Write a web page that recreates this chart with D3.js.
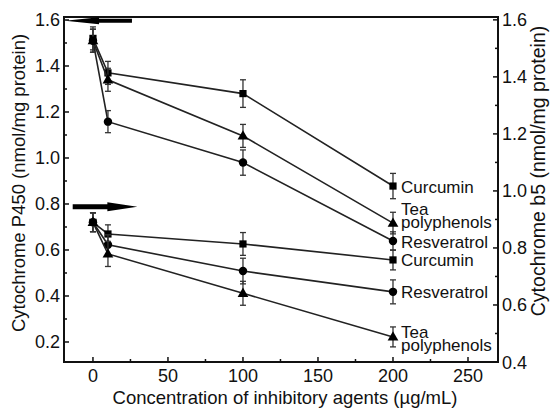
<!DOCTYPE html>
<html>
<head>
<meta charset="utf-8">
<script src="https://cdn.jsdelivr.net/npm/d3@7"></script>
<style>
  body { margin: 0; background: #fff; }
  text { font-family: "Liberation Sans", Arial, sans-serif; fill: #111; }
</style>
</head>
<body>
<script>
// concentrations (ug/mL)
var conc = [0, 10, 100, 200]

// cytochrome P450, left axis
var p450Curcumin = [1.52, 1.37, 1.28, 0.878]
var p450CurcuminErr = [0.05, 0.05, 0.06, 0.055]
var p450Tea = [1.51, 1.34, 1.096, 0.717]
var p450TeaErr = [0.05, 0.05, 0.05, 0.047]
var p450Resv = [1.51, 1.158, 0.98, 0.639]
var p450ResvErr = [0.05, 0.048, 0.055, 0.04]

// cytochrome b5, right axis
var b5Curcumin = [0.89, 0.849, 0.814, 0.758]
var b5CurcuminErr = [0.033, 0.032, 0.04, 0.035]
var b5Resv = [0.89, 0.811, 0.719, 0.646]
var b5ResvErr = [0.033, 0.035, 0.045, 0.042]
var b5Tea = [0.89, 0.779, 0.641, 0.488]
var b5TeaErr = [0.033, 0.044, 0.042, 0.035]

var xTicks = [0, 50, 100, 150, 200, 250]
var leftTicks = [0.2, 0.4, 0.6, 0.8, 1.0, 1.2, 1.4, 1.6]
var rightTicks = [0.4, 0.6, 0.8, 1.0, 1.2, 1.4, 1.6]

// arrows: [y value on left axis, x from, x to]
var arrowTop = [1.597, 26, -18.6]
var arrowBottom = [0.788, -13.5, 29.6]

var W = 551, H = 410
var L = 64, R = 498, T = 17, B = 362

var svg = d3.select("body").append("svg")
  .attr("width", W).attr("height", H)

var x = d3.scaleLinear().domain([-19.3, 270]).range([L, R])
var yL = d3.scaleLinear().domain([0.113, 1.613]).range([B, T])
var yR = d3.scaleLinear().domain([0.4, 1.61]).range([B, T])

// frame
svg.append("rect")
  .attr("x", L).attr("y", T).attr("width", R - L).attr("height", B - T)
  .attr("fill", "none").attr("stroke", "#111").attr("stroke-width", 2)

// ticks (inward)
var minorX = [25, 75, 125, 175, 225]
var minorL = d3.range(3, 16, 2).map(function(d) { return d / 10 })
var minorR = d3.range(5, 16, 2).map(function(d) { return d / 10 })

function ticks(g, vals, len, fn) {
  g.selectAll(null).data(vals).enter().append("line")
    .each(function(d) { fn(d3.select(this), d, len) })
    .attr("stroke", "#111").attr("stroke-width", 1.5)
}
var tg = svg.append("g")
ticks(tg, xTicks, 5, function(s, d, l) { s.attr("x1", x(d)).attr("x2", x(d)).attr("y1", B).attr("y2", B - l) })
ticks(tg, minorX, 3, function(s, d, l) { s.attr("x1", x(d)).attr("x2", x(d)).attr("y1", B).attr("y2", B - l) })
ticks(tg, leftTicks, 5, function(s, d, l) { s.attr("x1", L).attr("x2", L + l).attr("y1", yL(d)).attr("y2", yL(d)) })
ticks(tg, minorL, 3, function(s, d, l) { s.attr("x1", L).attr("x2", L + l).attr("y1", yL(d)).attr("y2", yL(d)) })
ticks(tg, rightTicks, 5, function(s, d, l) { s.attr("x1", R).attr("x2", R - l).attr("y1", yR(d)).attr("y2", yR(d)) })
ticks(tg, minorR, 3, function(s, d, l) { s.attr("x1", R).attr("x2", R - l).attr("y1", yR(d)).attr("y2", yR(d)) })

// tick labels
svg.selectAll(".xl").data(xTicks).enter().append("text")
  .attr("x", function(d) { return x(d) }).attr("y", 382)
  .attr("text-anchor", "middle").attr("font-size", "18px")
  .text(function(d) { return d })
svg.selectAll(".ll").data(leftTicks).enter().append("text")
  .attr("x", 60).attr("y", function(d) { return yL(d) + 6.5 })
  .attr("text-anchor", "end").attr("font-size", "18px")
  .text(function(d) { return d.toFixed(1) })
svg.selectAll(".rl").data(rightTicks).enter().append("text")
  .attr("x", 502).attr("y", function(d) { return yR(d) + 6.5 })
  .attr("font-size", "18px")
  .text(function(d) { return d.toFixed(1) })

// axis titles
svg.append("text").attr("text-anchor", "middle").attr("font-size", "18.5px")
  .attr("x", (L + R) / 2 + 4).attr("y", 404)
  .text("Concentration of inhibitory agents (\u00b5g/mL)")
svg.append("text").attr("text-anchor", "middle").attr("font-size", "18.5px")
  .attr("transform", "translate(25," + 183 + ") rotate(-90)")
  .text("Cytochrome P450 (nmol/mg protein)")
svg.append("text").attr("text-anchor", "middle").attr("font-size", "19.5px")
  .attr("transform", "translate(545," + 171 + ") rotate(-90)")
  .text("Cytochrome b5 (nmol/mg protein)")

// series
var series = [
  {vals: p450Curcumin, err: p450CurcuminErr, y: yL, mark: "square", label: ["Curcumin"], dy: 6.5},
  {vals: p450Tea, err: p450TeaErr, y: yL, mark: "triangle", label: ["Tea", "polyphenols"], dy: -8},
  {vals: p450Resv, err: p450ResvErr, y: yL, mark: "circle", label: ["Resveratrol"], dy: 7},
  {vals: b5Curcumin, err: b5CurcuminErr, y: yR, mark: "square", label: ["Curcumin"], dy: 6},
  {vals: b5Resv, err: b5ResvErr, y: yR, mark: "circle", label: ["Resveratrol"], dy: 6},
  {vals: b5Tea, err: b5TeaErr, y: yR, mark: "triangle", label: ["Tea", "polyphenols"], dy: 1}
]

var symbols = {
  square: d3.symbol().type(d3.symbolSquare).size(52),
  circle: d3.symbol().type(d3.symbolCircle).size(56),
  triangle: d3.symbol().type(d3.symbolTriangle).size(50)
}

series.forEach(function(s) {
  var g = svg.append("g")
  var pts = conc.map(function(c, i) { return {x: c, v: s.vals[i], e: s.err[i]} })

  g.append("path").datum(pts)
    .attr("fill", "none").attr("stroke", "#222").attr("stroke-width", 1.6)
    .attr("d", d3.line().x(function(d) { return x(d.x) }).y(function(d) { return s.y(d.v) }))

  var eb = g.selectAll(".eb").data(pts).enter().append("g")
  eb.append("line")
    .attr("x1", function(d) { return x(d.x) }).attr("x2", function(d) { return x(d.x) })
    .attr("y1", function(d) { return s.y(d.v - d.e) }).attr("y2", function(d) { return s.y(d.v + d.e) })
  eb.append("line")
    .attr("x1", function(d) { return x(d.x) - 3 }).attr("x2", function(d) { return x(d.x) + 3 })
    .attr("y1", function(d) { return s.y(d.v + d.e) }).attr("y2", function(d) { return s.y(d.v + d.e) })
  eb.append("line")
    .attr("x1", function(d) { return x(d.x) - 3 }).attr("x2", function(d) { return x(d.x) + 3 })
    .attr("y1", function(d) { return s.y(d.v - d.e) }).attr("y2", function(d) { return s.y(d.v - d.e) })
  eb.selectAll("line").attr("stroke", "#333").attr("stroke-width", 1.3)

  g.selectAll(".m").data(pts).enter().append("path")
    .attr("d", symbols[s.mark])
    .attr("transform", function(d) {
      return "translate(" + x(d.x) + "," + (s.y(d.v) + (s.mark == "triangle" ? 0.5 : 0)) + ")"
    })
    .attr("fill", "#000")

  var last = pts[pts.length - 1]
  var lx = x(last.x) + 8
  var t = g.append("text")
    .attr("x", lx).attr("y", s.y(last.v) + s.dy)
    .attr("font-size", "17px")
  s.label.forEach(function(w, i) {
    t.append("tspan").attr("x", lx).attr("dy", i ? 13 : 0).text(w)
  })
})

// arrows
function arrow(a, headLen, headH, shaftH) {
  var yy = yL(a[0]), x0 = x(a[1]), x1 = x(a[2])
  var dir = x1 > x0 ? 1 : -1
  var hb = x1 - dir * headLen
  var p = d3.path()
  p.moveTo(x0, yy - shaftH / 2)
  p.lineTo(hb, yy - shaftH / 2)
  p.lineTo(hb, yy - headH / 2)
  p.lineTo(x1, yy)
  p.lineTo(hb, yy + headH / 2)
  p.lineTo(hb, yy + shaftH / 2)
  p.lineTo(x0, yy + shaftH / 2)
  p.closePath()
  svg.append("path").attr("d", p.toString()).attr("fill", "#000")
}
arrow(arrowTop, 34, 7, 4)
arrow(arrowBottom, 30, 9, 5)
</script>
</body>
</html>
